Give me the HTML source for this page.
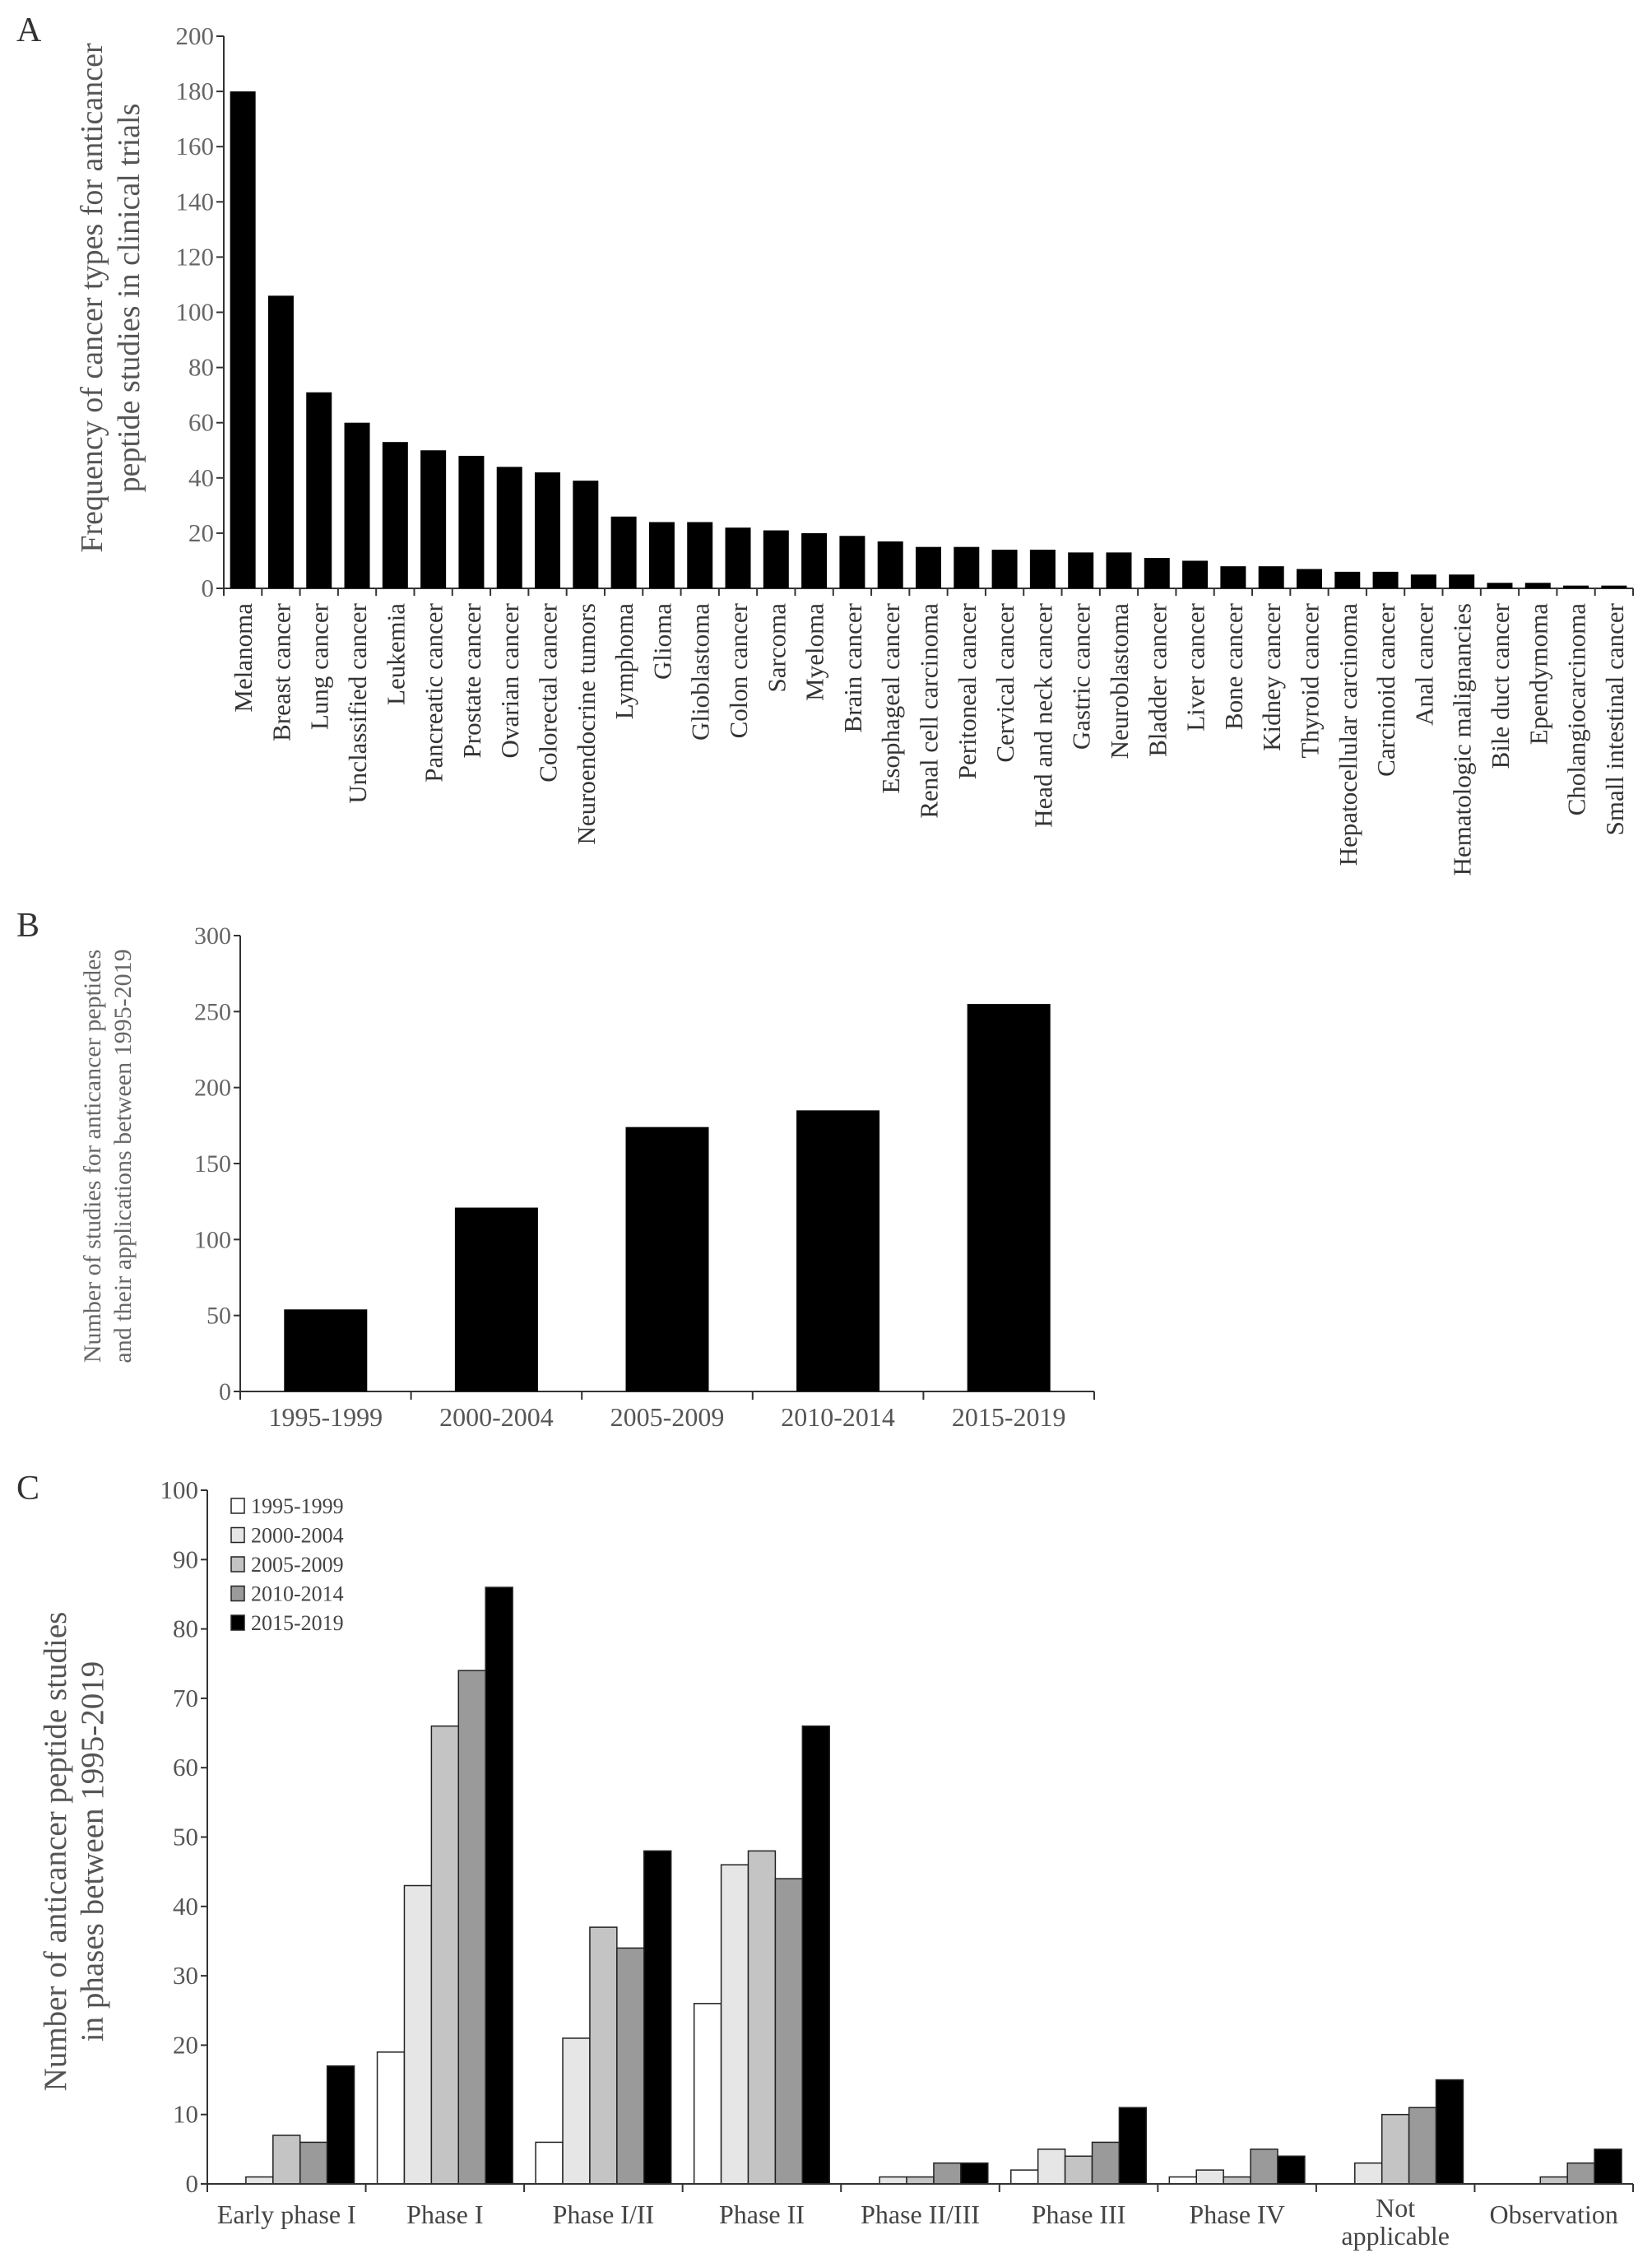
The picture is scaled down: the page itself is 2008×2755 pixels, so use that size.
<!DOCTYPE html>
<html><head><meta charset="utf-8">
<style>
html,body{margin:0;padding:0;background:#fff;}
svg{display:block;font-family:"Liberation Serif","DejaVu Serif",serif;}
</style></head>
<body>
<svg id="fig" width="2008" height="2755" viewBox="0 0 2008 2755" xmlns="http://www.w3.org/2000/svg">
<text x="20" y="50" font-size="42" fill="#333">A</text>
<text x="20" y="1138" font-size="42" fill="#333">B</text>
<text x="20" y="1822" font-size="42" fill="#333">C</text>
</svg>
<script>
const catsA=["Melanoma","Breast cancer","Lung cancer","Unclassified cancer","Leukemia","Pancreatic cancer","Prostate cancer","Ovarian cancer","Colorectal cancer","Neuroendocrine tumors","Lymphoma","Glioma","Glioblastoma","Colon cancer","Sarcoma","Myeloma","Brain cancer","Esophageal cancer","Renal cell carcinoma","Peritoneal cancer","Cervical cancer","Head and neck cancer","Gastric cancer","Neuroblastoma","Bladder cancer","Liver cancer","Bone cancer","Kidney cancer","Thyroid cancer","Hepatocellular carcinoma","Carcinoid cancer","Anal cancer","Hematologic malignancies","Bile duct cancer","Ependymoma","Cholangiocarcinoma","Small intestinal cancer"];
const valsA=[180,106,71,60,53,50,48,44,42,39,26,24,24,22,21,20,19,17,15,15,14,14,13,13,11,10,8,8,7,6,6,5,5,2,2,1,1];
const ticksA=[0,20,40,60,80,100,120,140,160,180,200];
const catsB=["1995-1999","2000-2004","2005-2009","2010-2014","2015-2019"];
const valsB=[54,121,174,185,255];
const ticksB=[0,50,100,150,200,250,300];
const catsC=["Early phase I","Phase I","Phase I/II","Phase II","Phase II/III","Phase III","Phase IV","Not applicable","Observation"];
const seriesC=["1995-1999","2000-2004","2005-2009","2010-2014","2015-2019"];
const s1995=[0,19,6,26,0,2,1,0,0];
const s2000=[1,43,21,46,1,5,2,3,0];
const s2005=[7,66,37,48,1,4,1,10,1];
const s2010=[6,74,34,44,3,6,5,11,3];
const s2015=[17,86,48,66,3,11,4,15,5];
const ticksC=[0,10,20,30,40,50,60,70,80,90,100];

const NS="http://www.w3.org/2000/svg";
const svg=document.getElementById('fig');
function el(tag,attrs,parent,txt){const e=document.createElementNS(NS,tag);for(const k in attrs)e.setAttribute(k,attrs[k]);if(txt!==undefined)e.textContent=txt;(parent||svg).appendChild(e);return e;}

// ---------- Panel A ----------
(function(){
const x0=272,x1=1985,y0=715,y1=44,max=200;
const step=(x1-x0)/catsA.length;
const ys=v=>y0-(v/max)*(y0-y1);
const g=el('g',{});


const ax=el('line',{x1:x0,y1:y1,x2:x0,y2:y0,stroke:'#333','stroke-width':2},g);


const bx=el('line',{x1:x0,y1:y0,x2:x1,y2:y0,stroke:'#333','stroke-width':2},g);


ticksA.forEach(t=>{const y=ys(t);
el('line',{x1:x0-9,y1:y,x2:x0,y2:y,stroke:'#333','stroke-width':2},g);
const tl=el('text',{x:x0-12,y:y+10,'font-size':31,fill:'#666','text-anchor':'end'},g,t);

});
for(let i=0;i<=catsA.length;i++){const x=x0+i*step;el('line',{x1:x,y1:y0,x2:x,y2:y0+9,stroke:'#333','stroke-width':2},g);}
catsA.forEach((c,i)=>{const cx=x0+(i+0.5)*step;const bw=31;
const r=el('rect',{x:cx-bw/2,y:ys(valsA[i]),width:bw,height:y0-ys(valsA[i]),fill:'#000'},g);


const t=el('text',{x:0,y:0,'font-size':31,fill:'#333','text-anchor':'end',transform:`translate(${cx+11},${y0+18}) rotate(-90)`},g,c);

});
const tt=el('text',{'font-size':38,fill:'#555','text-anchor':'middle',transform:'translate(124,362) rotate(-90)'},g);


el('tspan',{x:0,y:0},tt,'Frequency of cancer types for anticancer');
el('tspan',{x:0,y:45},tt,'peptide studies in clinical trials');
})();

// ---------- Panel B ----------
(function(){
const x0=292,x1=1330,y0=1691,y1=1137,max=300;
const step=(x1-x0)/catsB.length;
const ys=v=>y0-(v/max)*(y0-y1);
const g=el('g',{});


const ax=el('line',{x1:x0,y1:y1,x2:x0,y2:y0,stroke:'#333','stroke-width':2},g);


const bx=el('line',{x1:x0,y1:y0,x2:x1,y2:y0,stroke:'#333','stroke-width':2},g);


ticksB.forEach(t=>{const y=ys(t);
el('line',{x1:x0-8,y1:y,x2:x0,y2:y,stroke:'#333','stroke-width':2},g);
const tl=el('text',{x:x0-11,y:y+10,'font-size':30,fill:'#666','text-anchor':'end'},g,t);

});
for(let i=0;i<=catsB.length;i++){const x=x0+i*step;el('line',{x1:x,y1:y0,x2:x,y2:y0+10,stroke:'#333','stroke-width':2},g);}
catsB.forEach((c,i)=>{const cx=x0+(i+0.5)*step;const bw=101;
const r=el('rect',{x:cx-bw/2,y:ys(valsB[i]),width:bw,height:y0-ys(valsB[i]),fill:'#000'},g);


const t=el('text',{x:cx,y:y0+42,'font-size':32,fill:'#555','text-anchor':'middle'},g,c);

});
const tt=el('text',{'font-size':30,fill:'#666','text-anchor':'middle',transform:'translate(122,1405) rotate(-90)'},g);


el('tspan',{x:0,y:0},tt,'Number of studies for anticancer peptides');
el('tspan',{x:0,y:37},tt,'and their applications between 1995-2019');
})();

// ---------- Panel C ----------
(function(){
const x0=252,x1=1985,y0=2654,y1=1811,max=100;
const step=(x1-x0)/catsC.length;
const ys=v=>y0-(v/max)*(y0-y1);
const series=[s1995,s2000,s2005,s2010,s2015];
const fills=['#ffffff','#e6e6e6','#c4c4c4','#9a9a9a','#000000'];
const g=el('g',{});


const ax=el('line',{x1:x0,y1:y1,x2:x0,y2:y0,stroke:'#333','stroke-width':2},g);


ticksC.forEach(t=>{const y=ys(t);
el('line',{x1:x0-8,y1:y,x2:x0,y2:y,stroke:'#333','stroke-width':2},g);
const tl=el('text',{x:x0-11,y:y+10,'font-size':31,fill:'#555','text-anchor':'end'},g,t);

});
for(let i=0;i<=catsC.length;i++){const x=x0+i*step;el('line',{x1:x,y1:y0,x2:x,y2:y0+10,stroke:'#333','stroke-width':2},g);}
const bw=(step-28)/5;
catsC.forEach((c,i)=>{const gx=x0+i*step+14;
series.forEach((s,k)=>{const v=s[i];if(v<=0)return;
const r=el('rect',{x:gx+k*bw,y:ys(v),width:bw,height:y0-ys(v),fill:fills[k],stroke:'#222','stroke-width':1.5},g);

});
const cx=x0+(i+0.5)*step;
if(c==='Not applicable'){
const t=el('text',{'font-size':32,fill:'#444','text-anchor':'middle'},g);


el('tspan',{x:cx,y:y0+40},t,'Not');el('tspan',{x:cx,y:y0+74},t,'applicable');
}else{
const t=el('text',{x:cx,y:y0+48,'font-size':32,fill:'#444','text-anchor':'middle'},g,c);

}
});
const bx=el('line',{x1:x0,y1:y0,x2:x1,y2:y0,stroke:'#333','stroke-width':2},g);


seriesC.forEach((s,k)=>{const y=1830+k*35.5;
const lg=el('g',{},g);


el('rect',{x:281,y:y-9,width:16,height:18,fill:fills[k],stroke:'#222','stroke-width':1.5},lg);
el('text',{x:305,y:y+9,'font-size':26,fill:'#444'},lg,s);});
const tt=el('text',{'font-size':39,fill:'#555','text-anchor':'middle',transform:'translate(80,2250) rotate(-90)'},g);


el('tspan',{x:0,y:0},tt,'Number of anticancer peptide studies');
el('tspan',{x:0,y:45},tt,'in phases between 1995-2019');
})();
</script>
</body></html>
